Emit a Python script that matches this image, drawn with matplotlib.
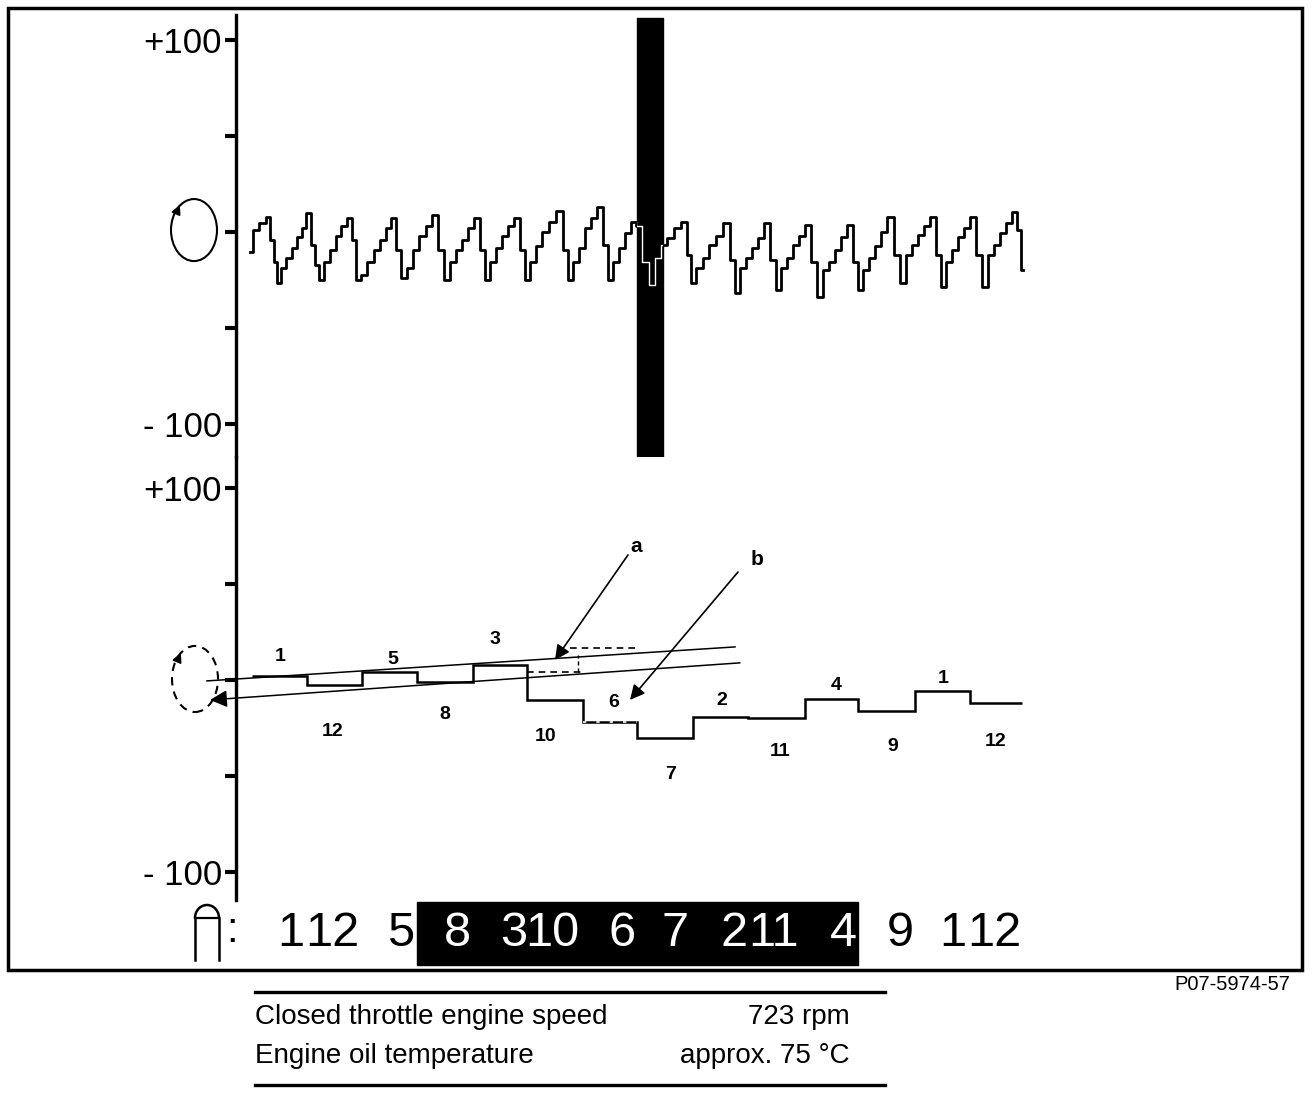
import numpy as np
import matplotlib
matplotlib.use("Agg")
import matplotlib.pyplot as plt
from matplotlib.patches import Rectangle, Ellipse, Arc

# ------------------------------------------------------------
# DATA  (time axis in display samples, values in %)
# ------------------------------------------------------------

# upper trace: ripple signal
wave_t = [250, 255, 263, 268, 272, 275, 278,
          283, 289, 294, 299, 304, 308, 313, 317, 321,
          327, 333, 338, 344, 350, 354, 358,
          364, 370, 377, 383, 388, 393, 398, 403,
          410, 416, 422, 429, 435, 441, 447,
          453, 459, 465, 471, 477, 482, 487,
          493, 499, 505, 511, 517, 522, 527,
          533, 539, 545, 552, 560, 565, 570,
          576, 582, 588, 594, 600, 605, 610,
          616, 622, 628, 633, 638, 645, 652,
          658, 664, 670, 677, 685, 689, 692,
          699, 706, 712, 719, 727, 732, 737,
          743, 749, 755, 761, 767, 773, 778,
          784, 790, 796, 802, 808, 814, 820,
          826, 832, 838, 844, 850, 855, 860,
          866, 872, 878, 884, 890, 897, 903,
          909, 915, 921, 927, 933, 938, 943,
          949, 955, 961, 967, 973, 979, 985,
          991, 997, 1003, 1009, 1015, 1019, 1023]
wave_v = [-10.4, 1.0, 4.7, 7.8, -4.0, -15.6, -26.6,
          -18.8, -13.5, -8.3, -2.6, 2.0, 9.9, -6.8, -17.2, -25.0,
          -15.6, -9.4, -2.0, 3.1, 7.3, -4.2, -25.0,
          -22.4, -15.6, -9.4, -4.2, 2.0, 7.3, -9.4, -24.0,
          -18.8, -9.4, -2.0, 3.1, 8.9, -9.4, -25.0,
          -15.6, -9.4, -4.2, 2.0, 7.3, -9.4, -25.0,
          -15.6, -8.3, -2.0, 3.1, 7.3, -9.4, -25.0,
          -15.6, -7.3, 0.0, 5.2, 10.9, -9.4, -25.0,
          -15.6, -8.3, 2.0, 7.3, 13.0, -6.8, -25.0,
          -15.6, -8.3, -0.5, 5.2, 3.1, -15.6, -27.6,
          -13.5, -6.8, -3.1, 2.0, 5.2, -12.0, -26.6,
          -18.8, -13.5, -6.8, -2.0, 4.7, -14.6, -31.8,
          -18.8, -13.5, -8.3, -3.1, 4.7, -14.6, -30.2,
          -18.8, -13.5, -6.8, -2.0, 3.6, -15.6, -33.9,
          -19.8, -15.6, -9.4, -2.6, 3.6, -15.6, -30.2,
          -19.8, -13.5, -7.3, 0.0, 7.8, -12.0, -26.6,
          -12.0, -6.8, -1.6, 3.1, 7.8, -12.0, -28.6,
          -15.6, -9.4, -2.6, 2.0, 7.8, -12.0, -28.6,
          -12.0, -6.8, -0.5, 4.7, 10.4, 1.0, -19.8]

# lower trace: one level per firing interval
firing_order = ["1", "12", "5", "8", "3", "10", "6", "7", "2", "11", "4", "9", "1", "12"]
step_edges = [252, 307, 362, 417, 473, 527, 583, 637, 693, 748, 805, 858, 915, 970, 1022]
step_vals = [2.1, -2.6, 4.2, -1.0, 7.8, -10.4, -21.9, -30.2, -19.3, -19.8, -9.9, -16.1, -5.7, -12.0]
step_label_t = [280, 333, 393, 445, 495, 546, 614, 671, 722, 780, 836, 893, 943, 996]
step_label_v = [12.0, -26.6, 10.9, -18.2, 20.8, -29.7, -12.0, -49.5, -10.9, -37.5, -3.1, -34.9, 1.0, -31.8]

# firing order row under the display
row_label_t = [291, 332, 401, 457, 514, 552, 622, 675, 734, 774, 843, 900, 953, 994]
highlighted = [False, False, False, True, True, True, True, True, True, True, True, False, False, False]

# reference lines in lower trace
line_a_t = [207, 735]
line_a_v = [-0.5, 17.2]
line_b_t = [210, 740]
line_b_v = [-10.4, 8.9]

table_rows = [("Closed throttle engine speed", "723 rpm"),
              ("Engine oil temperature", "approx. 75 °C")]

# ------------------------------------------------------------
# FIGURE
# ------------------------------------------------------------

W, H = 1312, 1094
SANS = ["Liberation Sans", "DejaVu Sans"]

fig = plt.figure(figsize=(W / 100, H / 100), dpi=100)


def px_axes(x0, y0, x1, y1):
    return fig.add_axes([x0 / W, 1 - y1 / H, (x1 - x0) / W, (y1 - y0) / H])


bg = px_axes(0, 0, W, H)
bg.set_xlim(0, W)
bg.set_ylim(H, 0)
bg.axis("off")

ax_top = px_axes(236, 15, 1302, 457)
ax_bot = px_axes(236, 457, 1302, 900)

ax_top.set_ylim(-117.2, 113.0)
ax_bot.set_ylim(-114.6, 116.1)

for ax in (ax_top, ax_bot):
    ax.set_xlim(236, 1302)
    ax.patch.set_visible(False)
    for s in ("top", "right", "bottom"):
        ax.spines[s].set_visible(False)
    ax.spines["left"].set_linewidth(2.4)
    ax.set_xticks([])
    ax.set_yticks([100, 50, 0, -50, -100])
    ax.set_yticklabels(["+100", "", "", "", "- 100"], fontfamily=SANS, fontsize=25)
    ax.tick_params(axis="y", direction="out", length=8, width=3, pad=2)

# frame
bg.add_patch(Rectangle((8, 8), 1294, 962, fill=False, lw=2.5, color="k"))

# upper trace
ax_top.plot(wave_t, wave_v, drawstyle="steps-mid", color="k", lw=2.0)
bar = Rectangle((637, -117.2), 26, 228.7, color="k", zorder=3)
ax_top.add_patch(bar)
inner, = ax_top.plot(wave_t, wave_v, drawstyle="steps-mid", color="white", lw=1, zorder=4)
inner.set_clip_path(bar)

# rotation symbols at the zero lines
ax_top.add_patch(Ellipse((194, 1), 46, 32.3, fill=False, lw=1.5, color="k", clip_on=False))
ax_top.annotate("", xy=(181, 15.5), xytext=(176, 9.5),
                arrowprops=dict(arrowstyle="-|>", color="k", lw=1.2, mutation_scale=14),
                annotation_clip=False)
ax_bot.add_patch(Ellipse((195, 0.5), 46, 34.4, fill=False, lw=1.5, color="k",
                         ls=(0, (4, 3)), clip_on=False))
ax_bot.annotate("", xy=(182, 15.5), xytext=(177, 9.5),
                arrowprops=dict(arrowstyle="-|>", color="k", lw=1.2, mutation_scale=14),
                annotation_clip=False)

# lower trace
ax_bot.stairs(step_vals, step_edges, baseline=None, color="k", lw=1.8)
ax_bot.plot(line_a_t, line_a_v, color="k", lw=1.1, clip_on=False)
ax_bot.annotate("", xy=(line_b_t[0], line_b_v[0]), xytext=(line_b_t[1], line_b_v[1]),
                arrowprops=dict(arrowstyle="-|>", color="k", lw=1.1, mutation_scale=26,
                                shrinkA=0, shrinkB=0),
                annotation_clip=False)

# dashed overlay near the changeover
ax_bot.plot([527, 583], [4.2, 4.2], color="k", lw=1.2, ls=(0, (4, 3)))
ax_bot.plot([570, 640], [16.7, 16.7], color="k", lw=1.2, ls=(0, (4, 3)))
ax_bot.plot([578, 578], [4.2, 13.0], color="k", lw=1.0, ls=(0, (3, 2)))
ax_bot.plot([583, 637], [-21.9, -21.9], color="white", lw=1.2, ls=(0, (2, 6)))

for t, v, s in zip(step_label_t, step_label_v, firing_order):
    ax_bot.text(t, v, s, ha="center", va="center", fontsize=14, fontweight="bold",
                family=SANS)

# pointers a / b
ax_bot.annotate("", xy=(555, 10.4), xytext=(628, 65.1),
                arrowprops=dict(arrowstyle="-|>", color="k", lw=1.2, mutation_scale=22,
                                shrinkA=0, shrinkB=0))
ax_bot.annotate("", xy=(630, -10.4), xytext=(738, 56.2),
                arrowprops=dict(arrowstyle="-|>", color="k", lw=1.2, mutation_scale=22,
                                shrinkA=0, shrinkB=0))
ax_bot.text(636, 69.3, "a", ha="center", va="center", fontsize=15, fontweight="bold", family=SANS)
ax_bot.text(757, 62.5, "b", ha="center", va="center", fontsize=15, fontweight="bold", family=SANS)

# firing order row
ax_bot.add_patch(Rectangle((417, -148.5), 441, 32.8, color="k", clip_on=False, zorder=2))
for t, s, hl in zip(row_label_t, firing_order, highlighted):
    ax_bot.text(t, -132.3, s, ha="center", va="center", fontsize=35, family=SANS,
                color="white" if hl else "black", zorder=3, clip_on=False)

# cylinder symbol + colon
bg.add_patch(Arc((207, 918), 24, 26, theta1=180, theta2=360, color="k", lw=1.8))
bg.plot([195, 195], [918, 960], color="k", lw=1.8)
bg.plot([219, 219], [918, 960], color="k", lw=1.8)
bg.plot([195, 219], [918, 918], color="k", lw=1.6)
bg.text(232, 931, ":", ha="center", va="center", fontsize=30, family=SANS)

# caption / table
bg.text(1290, 985, "P07-5974-57", ha="right", va="center", fontsize=14.5, family=SANS)
bg.plot([255, 885], [992, 992], color="k", lw=2.4)
bg.plot([255, 885], [1085, 1085], color="k", lw=2.4)
for i, (left, right) in enumerate(table_rows):
    y = 1017 + i * 39
    bg.text(255, y, left, ha="left", va="center", fontsize=20, family=SANS)
    bg.text(850, y, right, ha="right", va="center", fontsize=20, family=SANS)

fig.savefig("out.png", dpi=100)
